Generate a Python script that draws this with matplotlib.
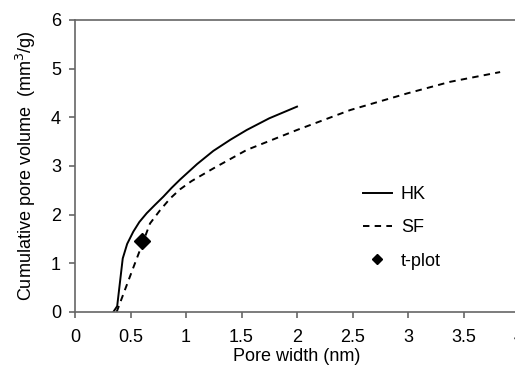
import matplotlib
matplotlib.use('Agg')
from matplotlib import pyplot as plt

plt.rcParams['font.family'] = ['Liberation Sans', 'DejaVu Sans']

# HK 累积孔体积
hk_x = [0.345, 0.38, 0.43, 0.47, 0.525, 0.58, 0.646, 0.72, 0.796, 0.87, 0.946, 1.1, 1.246, 1.4, 1.547, 1.75, 2.0]
hk_y = [0.0, 0.12, 1.10, 1.40, 1.65, 1.85, 2.03, 2.20, 2.37, 2.55, 2.72, 3.04, 3.31, 3.54, 3.74, 3.98, 4.22]
# SF
sf_x = [0.375, 0.525, 0.60, 0.676, 0.766, 0.856, 0.946, 1.05, 1.246, 1.547, 2.0, 2.48, 2.99, 3.38, 3.83]
sf_y = [0.0, 0.91, 1.36, 1.82, 2.09, 2.33, 2.52, 2.69, 2.95, 3.33, 3.74, 4.15, 4.49, 4.73, 4.93]
# t-plot
tp_x = [0.60]
tp_y = [1.45]

fig = plt.figure(figsize=(5.15, 3.73), dpi=100)
ax = fig.add_axes([75/515, 61/373, 444/515, 292/373])

ax.plot(hk_x, hk_y, color='black', lw=1.4, ls='-', label='HK')
ax.plot(sf_x, sf_y, color='black', lw=1.4, ls=(0, (3.3, 2.7)), label='SF')
ax.plot(tp_x, tp_y, color='black', ls='none', marker='D', ms=8, label='t-plot')

ax.set_xlim(0, 4)
ax.set_ylim(0, 6)
ax.set_xticks([0, 0.5, 1, 1.5, 2, 2.5, 3, 3.5, 4])
ax.set_xticklabels(['0', '0.5', '1', '1.5', '2', '2.5', '3', '3.5', '4'])
ax.set_yticks([0, 1, 2, 3, 4, 5, 6])
ax.tick_params(labelsize=13, color='#666666', length=4, width=1.2)
ax.tick_params(axis='x', pad=8)
ax.tick_params(axis='y', pad=6)

for s in ['left', 'bottom', 'top', 'right']:
    ax.spines[s].set_color('#666666')
    ax.spines[s].set_linewidth(1.2)

ax.set_xlabel('Pore width (nm)', fontsize=13, labelpad=2)
ax.set_ylabel('Cumulative pore volume  (mm$^3$/g)', fontsize=13, labelpad=9)

leg = ax.legend(frameon=False, fontsize=13, loc='upper left',
                bbox_to_anchor=(363/515, (373-186)/373), bbox_transform=fig.transFigure,
                borderpad=0, borderaxespad=0, handlelength=1.6, handletextpad=0.5,
                labelspacing=0.9, markerscale=0.7)

fig.savefig('out.png', dpi=100)
